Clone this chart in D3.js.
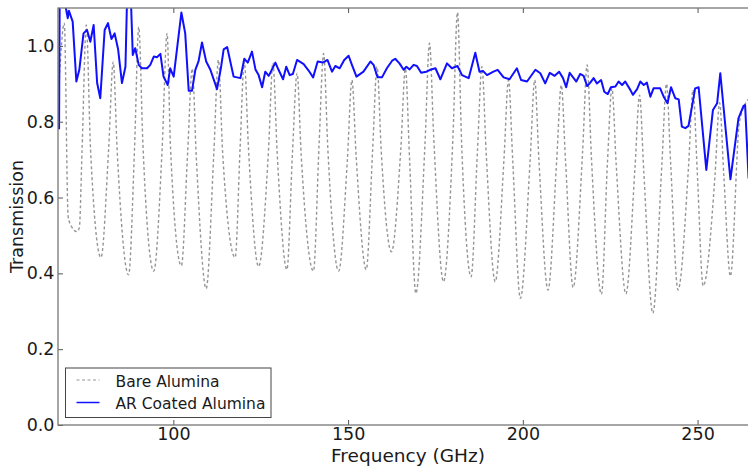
<!doctype html>
<html>
<head>
<meta charset="utf-8">
<title>Transmission</title>
<script src="https://cdn.jsdelivr.net/npm/d3@7"></script>
<style>
body { margin: 0; background: #fff; }
text { font-family: "DejaVu Sans", sans-serif; fill: #1a1a1a; }
</style>
</head>
<body>
<script>

// Data
var bareFreq = [67.3, 68.8, 69.9, 70.9, 72.4, 73.1, 73.9,
  75.1, 76.3, 79.3, 81.5,
  82.8, 83.9, 87.2, 88.9,
  90.1, 91.3, 94.4, 96.8,
  98.2, 99.2, 102.3, 104.1,
  105.4, 106.6, 109.4, 111.6,
  112.9, 114.1, 117.7, 119.1,
  120.3, 121.5, 124.4, 127.2,
  128.5, 129.7, 132.5, 134.1,
  135.4, 136.6, 140.1, 141.7,
  143.0, 144.2, 147.3, 149.8,
  151.1, 152.3, 155.2, 157.0,
  158.3, 159.5, 162.4, 165.1,
  166.4, 167.6, 169.4, 172.0,
  173.3, 174.5, 177.3, 180.0,
  181.3, 182.5, 185.2, 187.0,
  188.3, 189.5, 192.1, 194.6,
  195.9, 197.1, 199.3, 202.1,
  203.4, 204.6, 207.2, 209.7,
  211.0, 212.2, 214.4, 217.1,
  218.4, 219.6, 222.5, 224.2,
  225.5, 226.7, 229.5, 232.1,
  233.4, 234.6, 237.2, 239.8,
  241.1, 242.3, 244.4, 247.4,
  248.7, 249.9, 251.6, 255.0,
  256.3, 257.5, 259.4, 262.0, 264.6];

var bareT = [0.90, 1.06, 0.55, 0.523, 0.51, 0.52, 0.73,
  1.055, 0.73, 0.442, 0.73,
  0.958, 0.73, 0.396, 0.73,
  1.05, 0.74, 0.406, 0.73,
  1.033, 0.73, 0.42, 0.72,
  0.94, 0.70, 0.36, 0.72,
  0.963, 0.72, 0.442, 0.73,
  0.958, 0.73, 0.418, 0.72,
  0.955, 0.72, 0.41, 0.72,
  0.928, 0.71, 0.406, 0.74,
  0.98, 0.73, 0.406, 0.70,
  0.91, 0.71, 0.41, 0.72,
  0.945, 0.72, 0.457, 0.73,
  0.94, 0.70, 0.347, 0.74,
  1.007, 0.76, 0.378, 0.76,
  1.088, 0.74, 0.391, 0.72,
  0.945, 0.72, 0.378, 0.70,
  0.91, 0.70, 0.334, 0.70,
  0.91, 0.70, 0.356, 0.70,
  0.897, 0.70, 0.363, 0.72,
  0.95, 0.71, 0.345, 0.69,
  0.888, 0.69, 0.346, 0.68,
  0.87, 0.67, 0.295, 0.69,
  0.90, 0.69, 0.356, 0.68,
  0.884, 0.67, 0.367, 0.66,
  0.85, 0.66, 0.393, 0.80, 0.86];

var arFreq = [67.3, 67.5, 68.2, 69.8, 70.1, 71.2, 72.25, 73.1, 74.3, 75.3,
  76.25, 77.2, 78.2, 79.1, 80.35, 81.3, 82.3, 83.2, 84.2, 85.3,
  86.3, 87.2, 88.4, 89.1, 90.1, 91.0, 92.5, 93.4, 94.4, 95.3,
  96.3, 97.2, 98.4, 99.1, 100.1, 102.3, 103.4, 104.4, 105.35, 106.3,
  107.2, 108.2, 109.4, 110.6, 112.5, 113.6, 114.4, 115.4, 116.3, 117.25,
  119.2, 120.3, 121.3, 122.5, 123.5, 124.4, 125.4, 126.3, 127.3, 129.2,
  130.1, 131.4, 132.3, 133.3, 134.2, 135.4, 137.3, 138.7, 140.0, 141.3,
  142.8, 144.1, 145.4, 146.35, 147.6, 148.9, 150.15, 151.1, 152.4, 154.4,
  156.4, 157.3, 158.45, 159.7, 161.1, 162.6, 163.5, 164.7, 165.9, 166.7,
  167.6, 168.75, 169.7, 170.9, 172.4, 173.5, 175.0, 176.4, 178.3, 179.7,
  181.3, 182.6, 184.5, 186.4, 187.6, 188.6, 189.75, 191.6, 192.8, 194.5,
  196.2, 198.3, 199.5, 201.2, 203.6, 205.0, 206.4, 207.7, 209.1, 210.4,
  211.5, 212.4, 213.4, 215.3, 216.4, 217.4, 218.4, 219.3, 220.25, 221.2,
  222.4, 223.3, 224.3, 225.2, 226.5, 227.4, 228.4, 229.3, 230.75, 231.5,
  232.7, 233.6, 234.6, 235.5, 236.5, 237.4, 239.3, 240.3, 241.4, 242.4,
  243.6, 244.6, 245.5, 246.5, 247.4, 248.4, 249.3, 250.3, 252.5, 254.4,
  255.6, 256.5, 259.4, 261.7, 263.15, 263.6, 264.6];

var arT = [0.78, 1.15, 1.15, 1.073, 1.093, 1.064, 0.906, 0.937, 1.033, 1.042,
  1.011, 1.055, 0.902, 0.862, 1.042, 1.06, 1.018, 1.033, 0.991, 0.902,
  0.945, 1.3, 0.976, 0.994, 0.95, 0.941, 0.941, 0.95, 0.972, 0.97,
  0.979, 0.919, 0.897, 0.941, 0.919, 1.088, 1.033, 0.882, 0.882, 0.937,
  0.959, 1.009, 0.959, 0.937, 0.886, 0.941, 0.991, 0.997, 0.959, 0.919,
  0.915, 0.966, 0.956, 0.985, 0.938, 0.923, 0.891, 0.932, 0.921, 0.956,
  0.937, 0.912, 0.945, 0.923, 0.926, 0.963, 0.952, 0.935, 0.917, 0.959,
  0.956, 0.963, 0.932, 0.947, 0.941, 0.963, 0.974, 0.95, 0.919, 0.932,
  0.959, 0.95, 0.917, 0.917, 0.941, 0.961, 0.966, 0.954, 0.937, 0.945,
  0.938, 0.95, 0.947, 0.929, 0.932, 0.937, 0.941, 0.912, 0.954, 0.941,
  0.947, 0.923, 0.915, 0.982, 0.932, 0.934, 0.923, 0.932, 0.937, 0.917,
  0.912, 0.941, 0.910, 0.906, 0.937, 0.928, 0.901, 0.929, 0.921, 0.932,
  0.915, 0.891, 0.929, 0.906, 0.926, 0.921, 0.894, 0.903, 0.915, 0.901,
  0.910, 0.879, 0.873, 0.891, 0.893, 0.906, 0.897, 0.906, 0.884, 0.871,
  0.886, 0.906, 0.897, 0.903, 0.866, 0.888, 0.888, 0.866, 0.849, 0.891,
  0.862, 0.859, 0.787, 0.783, 0.789, 0.840, 0.888, 0.891, 0.673, 0.831,
  0.849, 0.928, 0.648, 0.809, 0.842, 0.844, 0.65];

var xTicks = [100, 150, 200, 250];
var yTicks = [0.0, 0.2, 0.4, 0.6, 0.8, 1.0];
var seriesNames = ["Bare Alumina", "AR Coated Alumina"];

// Graphics
var outerWidth = 748;
var outerHeight = 468;
var plot = {left: 58, right: 750, top: 8, bottom: 425};

var svg = d3.select("body").append("svg")
  .attr("width", outerWidth)
  .attr("height", outerHeight);

var xScale = d3.scaleLinear()
  .domain([67, 265])
  .range([plot.left, plot.right]);

var yScale = d3.scaleLinear()
  .domain([0, 1.1])
  .range([plot.bottom, plot.top]);

svg.append("clipPath")
  .attr("id", "clip")
  .append("rect")
  .attr("x", plot.left)
  .attr("y", plot.top)
  .attr("width", plot.right - plot.left)
  .attr("height", plot.bottom - plot.top);

var line = d3.line()
  .x(function(d) { return xScale(d[0]); })
  .y(function(d) { return yScale(d[1]); });

var smoothLine = d3.line()
  .curve(d3.curveMonotoneX)
  .x(function(d) { return xScale(d[0]); })
  .y(function(d) { return yScale(d[1]); });

var bare = bareFreq.map(function(f, i) { return [f, bareT[i]]; });
var ar = arFreq.map(function(f, i) { return [f, arT[i]]; });

var lines = svg.append("g").attr("clip-path", "url(#clip)");

lines.append("path")
  .datum(bare)
  .attr("d", smoothLine)
  .attr("fill", "none")
  .attr("stroke", "#959595")
  .attr("stroke-width", 1.4)
  .attr("stroke-dasharray", "3,2.5");

lines.append("path")
  .datum(ar)
  .attr("d", line)
  .attr("fill", "none")
  .attr("stroke", "#1010ff")
  .attr("stroke-width", 2)
  .attr("stroke-linejoin", "round");

// Axis
var xAxis = d3.axisBottom(xScale)
  .tickValues(xTicks)
  .tickFormat(d3.format("d"))
  .tickSizeInner(-5)
  .tickSizeOuter(0)
  .tickPadding(3);

var xAxisTop = d3.axisTop(xScale)
  .tickValues(xTicks)
  .tickFormat("")
  .tickSizeInner(-5)
  .tickSizeOuter(0);

var yAxis = d3.axisLeft(yScale)
  .tickValues(yTicks)
  .tickFormat(d3.format(".1f"))
  .tickSizeInner(-5)
  .tickSizeOuter(0)
  .tickPadding(3.5);

svg.append("g")
  .attr("class", "axis x")
  .attr("transform", "translate(0," + plot.bottom + ")")
  .call(xAxis);

svg.append("g")
  .attr("class", "axis x")
  .attr("transform", "translate(0," + plot.top + ")")
  .call(xAxisTop);

svg.append("g")
  .attr("class", "axis y")
  .attr("transform", "translate(" + plot.left + ",0)")
  .call(yAxis);

svg.selectAll(".axis .domain").remove();
svg.selectAll(".axis line").attr("stroke", "#555").attr("stroke-width", 1);
svg.selectAll(".axis text")
  .attr("font-size", "17.5px")
  .attr("font-family", "DejaVu Sans, sans-serif")
  .attr("fill", "#1a1a1a");

// frame
svg.append("rect")
  .attr("x", plot.left)
  .attr("y", plot.top)
  .attr("width", plot.right - plot.left)
  .attr("height", plot.bottom - plot.top)
  .attr("fill", "none")
  .attr("stroke", "#777")
  .attr("stroke-width", 1.3);

// labels
svg.append("text")
  .attr("x", 408)
  .attr("y", 461.5)
  .attr("text-anchor", "middle")
  .attr("font-size", "18.5px")
  .text("Frequency (GHz)");

svg.append("text")
  .attr("transform", "translate(23," + (plot.top + plot.bottom) / 2 + ") rotate(-90)")
  .attr("text-anchor", "middle")
  .attr("font-size", "17.5px")
  .text("Transmission");

// legend
var legend = svg.append("g").attr("transform", "translate(65.5,368)");

legend.append("rect")
  .attr("width", 205.5)
  .attr("height", 49.5)
  .attr("fill", "#fff")
  .attr("stroke", "#444")
  .attr("stroke-width", 1);

legend.append("line")
  .attr("x1", 11).attr("x2", 34)
  .attr("y1", 12).attr("y2", 12)
  .attr("stroke", "#959595")
  .attr("stroke-width", 1.2)
  .attr("stroke-dasharray", "3,2.5");

legend.append("line")
  .attr("x1", 11).attr("x2", 34)
  .attr("y1", 34.5).attr("y2", 34.5)
  .attr("stroke", "#1010ff")
  .attr("stroke-width", 1.5);

legend.selectAll("text.entry")
  .data(seriesNames)
  .enter()
  .append("text")
  .attr("class", "entry")
  .attr("x", 50)
  .attr("y", function(d, i) { return 18.5 + i * 22; })
  .attr("font-size", "15.5px")
  .text(function(d) { return d; });

</script>
</body>
</html>
